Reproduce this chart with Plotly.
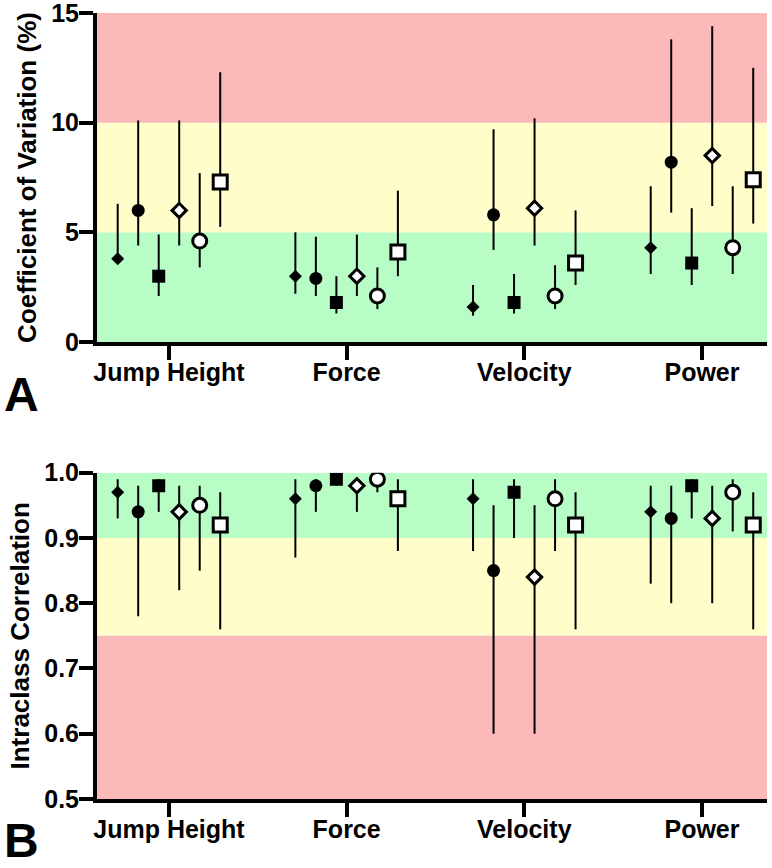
import plotly.graph_objects as go

categories = ["Jump Height", "Force", "Velocity", "Power"]
series_names = ["Series 1", "Series 2", "Series 3", "Series 4", "Series 5", "Series 6"]

# Coefficient of variation (%) - rows: series, cols: categories
cv_mean = [
    [3.8, 3.0, 1.6, 4.3],
    [6.0, 2.9, 5.8, 8.2],
    [3.0, 1.8, 1.8, 3.6],
    [6.0, 3.0, 6.1, 8.5],
    [4.6, 2.1, 2.1, 4.3],
    [7.3, 4.1, 3.6, 7.4],
]
cv_upper = [
    [6.3, 5.0, 2.6, 7.1],
    [10.1, 4.8, 9.7, 13.8],
    [4.9, 3.0, 3.1, 6.1],
    [10.1, 4.9, 10.2, 14.4],
    [7.7, 3.4, 3.5, 7.1],
    [12.3, 6.9, 6.0, 12.5],
]
cv_lower = [
    [3.6, 2.2, 1.2, 3.1],
    [4.4, 2.1, 4.2, 5.9],
    [2.1, 1.3, 1.3, 2.6],
    [4.4, 2.1, 4.4, 6.2],
    [3.4, 1.5, 1.5, 3.1],
    [5.25, 3.0, 2.6, 5.4],
]

# Intraclass correlation
icc_mean = [
    [0.97, 0.96, 0.96, 0.94],
    [0.94, 0.98, 0.85, 0.93],
    [0.98, 0.99, 0.97, 0.98],
    [0.94, 0.98, 0.84, 0.93],
    [0.95, 0.99, 0.96, 0.97],
    [0.92, 0.96, 0.92, 0.92],
]
icc_upper = [
    [0.99, 0.99, 0.99, 0.98],
    [0.98, 0.99, 0.95, 0.98],
    [0.99, 1.00, 0.99, 0.99],
    [0.98, 0.99, 0.95, 0.98],
    [0.98, 1.00, 0.99, 0.99],
    [0.97, 0.99, 0.97, 0.97],
]
icc_lower = [
    [0.93, 0.87, 0.88, 0.83],
    [0.78, 0.94, 0.60, 0.80],
    [0.94, 0.98, 0.90, 0.93],
    [0.82, 0.94, 0.60, 0.80],
    [0.85, 0.97, 0.88, 0.91],
    [0.76, 0.88, 0.76, 0.76],
]

cv_ticks = [0, 5, 10, 15]
icc_ticks = [0.5, 0.6, 0.7, 0.8, 0.9, 1.0]

# styles
symbols = ["diamond", "circle", "square", "diamond", "circle", "square"]
fills = ["black", "black", "black", "white", "white", "white"]
sizes = [10, 13, 13, 11, 14, 14]
linew = [0, 0, 0, 3, 3, 3]
spacing = 0.1154
offsets = [(k - 2.5) * spacing for k in range(6)]

FONT = "Liberation Sans, Arial, Helvetica, sans-serif"

fig = go.Figure()

for panel, (m, up, lo, xa, ya) in enumerate([
    (cv_mean, cv_upper, cv_lower, "x", "y"),
    (icc_mean, icc_upper, icc_lower, "x2", "y2"),
]):
    for s in range(6):
        xs = [i + offsets[s] for i in range(len(categories))]
        plus = [u - v for u, v in zip(up[s], m[s])]
        minus = [v - l for v, l in zip(m[s], lo[s])]
        fig.add_trace(go.Scatter(
            x=xs, y=m[s], mode="markers", name=series_names[s],
            xaxis=xa, yaxis=ya, showlegend=False,
            marker=dict(symbol=symbols[s], color=fills[s], size=sizes[s],
                        line=dict(color="black", width=linew[s])),
            error_y=dict(type="data", symmetric=False, array=plus, arrayminus=minus,
                         color="black", thickness=2, width=0),
            hoverinfo="skip",
        ))

RED = "#FBB9B9"
YEL = "#FFFDC9"
GRN = "#B8FDC5"
shapes = []
for (y0, y1, c) in [(0, 5, GRN), (5, 10, YEL), (10, 15, RED)]:
    shapes.append(dict(type="rect", xref="x domain", yref="y", x0=0, x1=1, y0=y0, y1=y1,
                       fillcolor=c, line=dict(width=0), layer="below"))
for (y0, y1, c) in [(0.9, 1.0, GRN), (0.75, 0.9, YEL), (0.5, 0.75, RED)]:
    shapes.append(dict(type="rect", xref="x2 domain", yref="y2", x0=0, x1=1, y0=y0, y1=y1,
                       fillcolor=c, line=dict(width=0), layer="below"))

W, H = 772, 868
xdom = [97 / W, 767 / W]
xrange_ = [-0.405, 3.366]

axis_common = dict(showline=True, linecolor="black", linewidth=4, ticks="outside",
                   ticklen=14, tickwidth=4, tickcolor="black", showgrid=False,
                   zeroline=False, mirror=False, automargin=False,
                   ticklabeloverflow="allow",
                   tickfont=dict(family=FONT, size=25, color="black", weight="bold"))

fig.update_layout(
    width=W, height=H,
    margin=dict(l=0, r=0, t=0, b=0),
    paper_bgcolor="white", plot_bgcolor="white",
    shapes=shapes,
    xaxis=dict(domain=xdom, range=xrange_, tickvals=list(range(len(categories))),
               ticktext=categories, anchor="y", **axis_common),
    yaxis=dict(domain=[1 - 342 / H, 1 - 13 / H], range=[0, 15], tickvals=cv_ticks,
               anchor="x",
               title=dict(text="Coefficient of Variation (%)", standoff=8,
                          font=dict(family=FONT, size=26, color="black", weight="bold")),
               **axis_common),
    xaxis2=dict(domain=xdom, range=xrange_, tickvals=list(range(len(categories))),
                ticktext=categories, anchor="y2", **axis_common),
    yaxis2=dict(domain=[1 - 799 / H, 1 - 472.7 / H], range=[0.5, 1.0], tickvals=icc_ticks,
                tickformat=".1f", anchor="x2",
                title=dict(text="Intraclass Correlation", standoff=8,
                           font=dict(family=FONT, size=26, color="black", weight="bold")),
                **axis_common),
    annotations=[
        dict(text="A", x=2 / W, y=1 - 394 / H, xref="paper", yref="paper",
             xanchor="left", yanchor="middle", showarrow=False,
             font=dict(family=FONT, size=48, color="black", weight="bold")),
        dict(text="B", x=2 / W, y=1 - 840 / H, xref="paper", yref="paper",
             xanchor="left", yanchor="middle", showarrow=False,
             font=dict(family=FONT, size=48, color="black", weight="bold")),
    ],
)

# pull tick labels a little closer to the axes, as in the reference
try:
    fig.update_xaxes(ticklabelstandoff=-9)
    fig.update_yaxes(ticklabelstandoff=-5)
except Exception:
    pass

fig.write_html("out.html", config={"displayModeBar": False},
               post_script="document.body.style.margin='0';")
